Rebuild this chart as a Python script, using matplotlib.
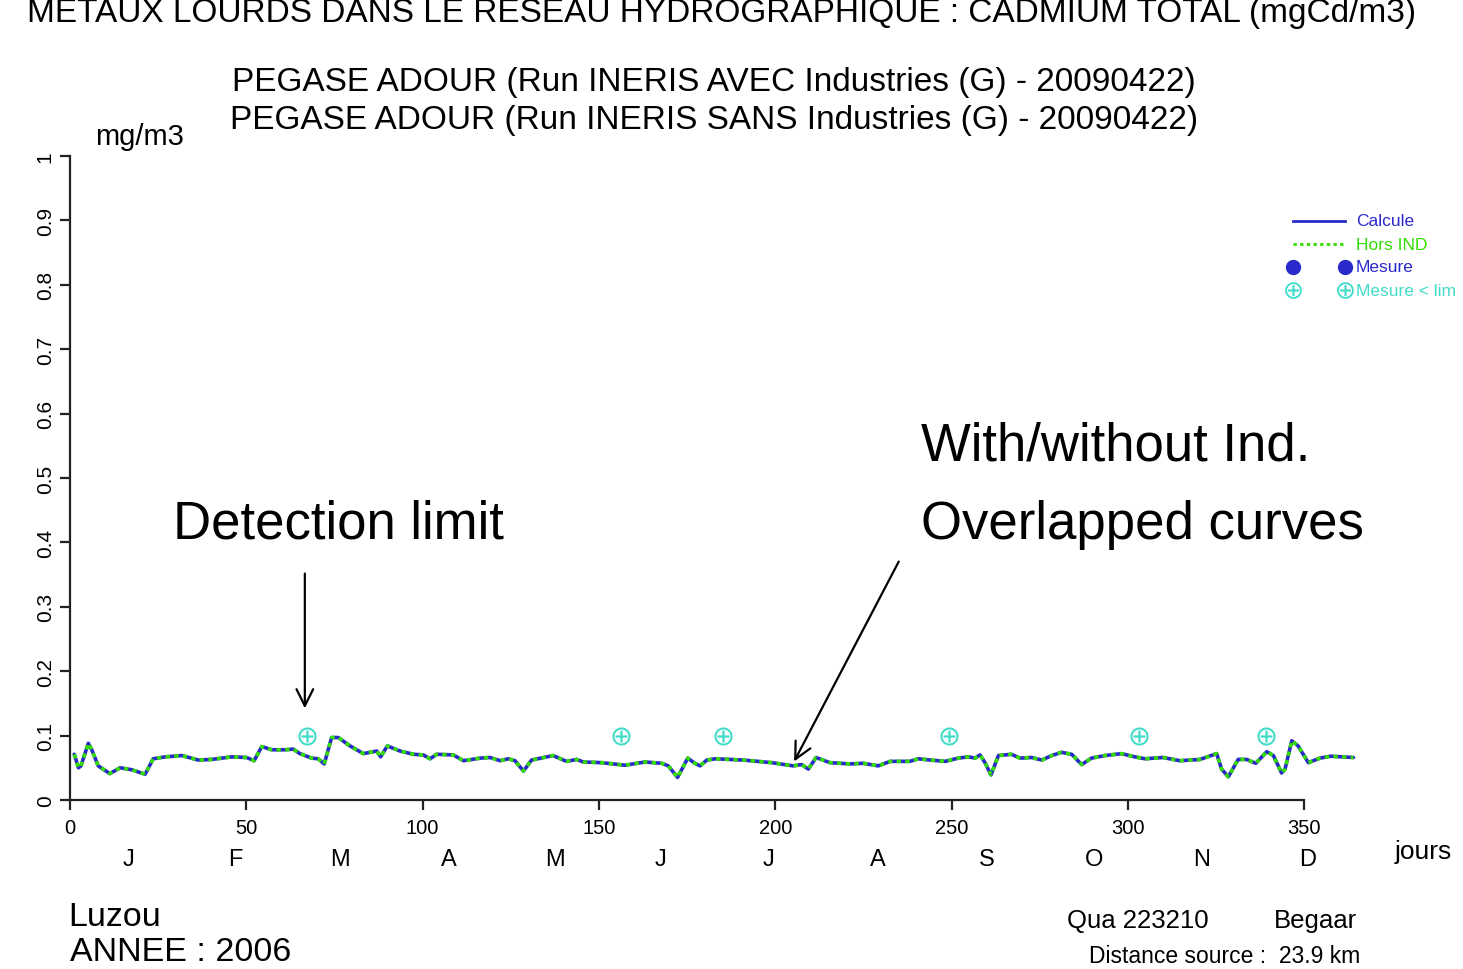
import matplotlib
matplotlib.use("Agg")
import matplotlib.pyplot as plt
import matplotlib.transforms as mtransforms

plt.rcParams['font.family'] = ['Liberation Sans', 'DejaVu Sans']

# ---------------- data ----------------
days = [1.2, 2.4, 3.1, 5.2, 6.1, 8.0, 11.3, 14.2, 17.5, 21.3, 23.6, 27.0, 31.7, 36.4, 40.2,
        45.9, 50.1, 52.2, 54.4, 57.2, 61.0, 63.3, 65.2, 68.5, 70.4, 72.1, 74.2, 76.1, 79.4,
        83.2, 87.0, 88.1, 90.0, 93.6, 97.4, 100.2, 102.1, 104.0, 108.7, 111.6, 116.3, 119.1,
        122.0, 124.3, 126.2, 128.6, 130.9, 137.0, 140.8, 143.7, 145.6, 150.8, 157.4, 163.1,
        167.8, 169.7, 172.3, 175.2, 177.2, 178.7, 180.6, 183.0, 191.0, 199.0, 205.1, 207.5,
        209.4, 211.6, 215.5, 221.2, 225.0, 229.2, 232.6, 238.2, 240.6, 244.0, 248.2, 251.9,
        254.8, 256.7, 258.1, 259.5, 261.2, 263.3, 267.0, 269.4, 272.7, 275.6, 278.4, 281.2,
        284.1, 286.9, 289.7, 293.5, 298.2, 302.0, 304.9, 310.0, 314.8, 320.5, 325.2, 326.6,
        328.5, 331.3, 333.7, 336.3, 339.4, 341.3, 343.6, 344.6, 346.5, 348.3, 351.2, 354.5,
        357.4, 364.0]
calcule = [0.071, 0.050, 0.053, 0.088, 0.079, 0.053, 0.041, 0.050, 0.047, 0.040, 0.064, 0.067,
           0.069, 0.062, 0.063, 0.067, 0.066, 0.061, 0.083, 0.078, 0.078, 0.079, 0.072, 0.065,
           0.064, 0.056, 0.097, 0.097, 0.084, 0.072, 0.076, 0.067, 0.084, 0.076, 0.071, 0.070,
           0.064, 0.071, 0.070, 0.061, 0.065, 0.066, 0.061, 0.064, 0.061, 0.045, 0.062, 0.069,
           0.060, 0.063, 0.059, 0.058, 0.054, 0.059, 0.057, 0.053, 0.035, 0.065, 0.057, 0.053,
           0.062, 0.064, 0.062, 0.058, 0.053, 0.055, 0.048, 0.066, 0.058, 0.056, 0.057, 0.053,
           0.060, 0.060, 0.064, 0.062, 0.060, 0.065, 0.067, 0.065, 0.070, 0.058, 0.039, 0.069,
           0.071, 0.065, 0.066, 0.062, 0.069, 0.074, 0.071, 0.055, 0.065, 0.069, 0.072, 0.067,
           0.064, 0.066, 0.061, 0.063, 0.072, 0.048, 0.036, 0.063, 0.063, 0.057, 0.075, 0.069,
           0.042, 0.048, 0.092, 0.084, 0.058, 0.065, 0.068, 0.066]
hors_ind = list(calcule)  # overlapped curves

lim_days = [67.2, 156.3, 185.2, 249.3, 303.2, 339.2]
lim_vals = [0.1, 0.1, 0.1, 0.1, 0.1, 0.1]

xticks = [0, 50, 100, 150, 200, 250, 300, 350]
yticks = [0, 0.1, 0.2, 0.3, 0.4, 0.5, 0.6, 0.7, 0.8, 0.9, 1]
ytick_labels = ['0', '0.1', '0.2', '0.3', '0.4', '0.5', '0.6', '0.7', '0.8', '0.9', '1']
months = ['J', 'F', 'M', 'A', 'M', 'J', 'J', 'A', 'S', 'O', 'N', 'D']
month_pos = [16.5, 47, 76.5, 107.5, 137.5, 167.5, 198, 229, 260, 290.5, 321, 351]

BLUE = '#2a2acc'
GREEN = '#33dd00'
TURQ = '#40dcc8'

W, H = 1463, 970
fig = plt.figure(figsize=(W / 100, H / 100), dpi=100)

def fx(px):
    return px / W

def fy(py):
    return 1 - py / H

ax = fig.add_axes([fx(70), fy(801), (1357 - 70) / W, (801 - 157) / H])
ax.set_xlim(0, 365)
ax.set_ylim(0, 1)

ax.plot(days, calcule, color=BLUE, lw=2.6, solid_capstyle='round', clip_on=False)
ax.plot(days, hors_ind, color=GREEN, lw=2.6, linestyle=(0, (1.2, 1.2)), clip_on=False)
ax.scatter(lim_days, lim_vals, s=170, marker='$\\oplus$', color=TURQ, linewidths=0, clip_on=False)

for side in ['top', 'right']:
    ax.spines[side].set_visible(False)
ax.spines['left'].set_bounds(0, 1)
ax.spines['bottom'].set_bounds(0, 350)
for side in ['left', 'bottom']:
    ax.spines[side].set_linewidth(1.6)
    ax.spines[side].set_color('#222222')

ax.set_xticks(xticks)
ax.set_xticklabels([str(t) for t in xticks])
ax.set_yticks(yticks)
ax.set_yticklabels(ytick_labels)
ax.tick_params(axis='both', length=7, width=1.6, color='#222222', labelsize=14.5)
ax.tick_params(axis='x', pad=6)
ax.tick_params(axis='y', pad=4, labelrotation=90, labelsize=15)
for lab in ax.get_yticklabels():
    lab.set_va('center')

trans = mtransforms.blended_transform_factory(ax.transData, ax.transAxes)
for m, p in zip(months, month_pos):
    ax.text(p, (801 - 860) / 644, m, transform=trans, ha='center', va='center', fontsize=17)

# titles
fig.text(fx(722), fy(22), 'METAUX LOURDS DANS LE RESEAU HYDROGRAPHIQUE : CADMIUM TOTAL (mgCd/m3)',
         ha='center', va='baseline', fontsize=24)
fig.text(fx(714), fy(82), 'PEGASE ADOUR (Run INERIS AVEC Industries (G) - 20090422)',
         ha='center', va='center', fontsize=24)
fig.text(fx(714), fy(121), 'PEGASE ADOUR (Run INERIS SANS Industries (G) - 20090422)',
         ha='center', va='center', fontsize=24)
fig.text(fx(140), fy(137), 'mg/m3', ha='center', va='center', fontsize=21)
fig.text(fx(1423), fy(852), 'jours', ha='center', va='center', fontsize=19)

# bottom texts
fig.text(fx(68), fy(918), 'Luzou', ha='left', va='center', fontsize=24.5)
fig.text(fx(70), fy(953), 'ANNEE : 2006', ha='left', va='center', fontsize=24.5)
fig.text(fx(1067), fy(921), 'Qua 223210', ha='left', va='center', fontsize=18.5)
fig.text(fx(1357), fy(921), 'Begaar', ha='right', va='center', fontsize=18.5)
fig.text(fx(1360), fy(957), 'Distance source :  23.9 km', ha='right', va='center', fontsize=16.5)

# legend (manual, R style)
fig.add_artist(plt.Line2D([fx(1293), fx(1345)], [fy(222), fy(222)], color=BLUE, lw=2))
fig.add_artist(plt.Line2D([fx(1293), fx(1345)], [fy(245), fy(245)], color=GREEN, lw=2,
                          linestyle=(0, (1.2, 1.2))))
fig.add_artist(plt.Line2D([fx(1293), fx(1345)], [fy(268), fy(268)], color=BLUE, lw=0,
                          marker='o', markersize=10))
fig.add_artist(plt.Line2D([fx(1293), fx(1345)], [fy(291), fy(291)], color=TURQ, lw=0,
                          marker='$\\oplus$', markersize=12, markeredgewidth=0))
leg_txt = [('Calcule', BLUE, 222), ('Hors IND', GREEN, 245), ('Mesure', BLUE, 268), ('Mesure < lim', TURQ, 291)]
for t, c, py in leg_txt:
    fig.text(fx(1356), fy(py), t, color=c, ha='left', va='center', fontsize=12.5)

# annotations
ax.text(29.2, 0.429, 'Detection limit', fontsize=38, va='center', ha='left')
ax.annotate('', xy=(66.6, 0.138), xytext=(66.6, 0.356),
            arrowprops=dict(arrowstyle='->', lw=1.6, color='black', mutation_scale=30))
ax.text(241.3, 0.55, 'With/without Ind.', fontsize=38, va='center', ha='left')
ax.text(241.3, 0.429, 'Overlapped curves', fontsize=38, va='center', ha='left')
ax.annotate('', xy=(205.0, 0.056), xytext=(235.4, 0.374),
            arrowprops=dict(arrowstyle='->', lw=1.6, color='black', mutation_scale=30))

fig.savefig('out.png', dpi=100)
